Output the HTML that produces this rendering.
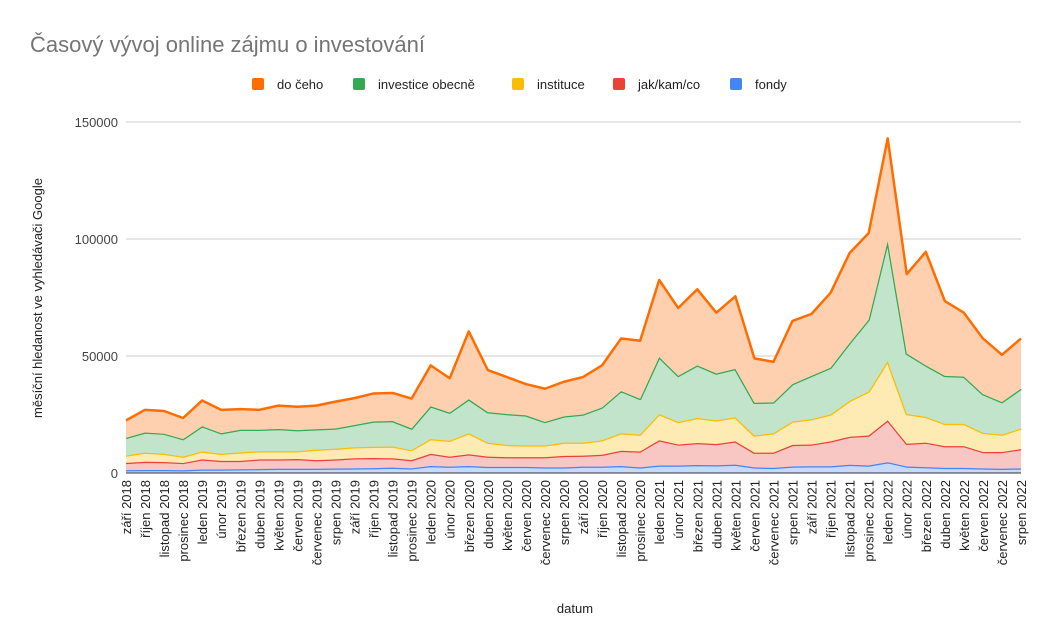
<!DOCTYPE html>
<html><head><meta charset="utf-8"><style>
body{margin:0;background:#fff;font-family:"Liberation Sans",Arial,sans-serif}
</style></head><body>
<svg id="chart" width="1045" height="637" xmlns="http://www.w3.org/2000/svg" font-family="Liberation Sans, Arial, sans-serif">
<text x="30" y="52" font-size="22" fill="#757575">Časový vývoj online zájmu o investování</text>
<g id="legend"></g>
<g id="grid"></g>
<g id="areas"></g>
<g id="xlabels"></g>
<text transform="translate(42,298) rotate(-90)" text-anchor="middle" font-size="13" fill="#222">měsíční hledanost ve vyhledávači Google</text>
<text x="575" y="613" text-anchor="middle" font-size="13" fill="#222">datum</text>
</svg>
<script>
const categories=["září 2018","říjen 2018","listopad 2018","prosinec 2018","leden 2019","únor 2019","březen 2019","duben 2019","květen 2019","červen 2019","červenec 2019","srpen 2019","září 2019","říjen 2019","listopad 2019","prosinec 2019","leden 2020","únor 2020","březen 2020","duben 2020","květen 2020","červen 2020","červenec 2020","srpen 2020","září 2020","říjen 2020","listopad 2020","prosinec 2020","leden 2021","únor 2021","březen 2021","duben 2021","květen 2021","červen 2021","červenec 2021","srpen 2021","září 2021","říjen 2021","listopad 2021","prosinec 2021","leden 2022","únor 2022","březen 2022","duben 2022","květen 2022","červen 2022","červenec 2022","srpen 2022"];
const fondy=[1.2,1.3,1.3,1.2,1.5,1.5,1.6,1.7,1.8,1.8,1.8,1.9,2,2.1,2.3,2,3,2.7,3,2.6,2.6,2.6,2.4,2.4,2.7,2.7,3,2.4,3.2,3.2,3.4,3.3,3.6,2.4,2.2,2.8,2.9,2.9,3.5,3.2,4.6,2.8,2.5,2.2,2.2,2,1.8,2];
const jakKamCo=[3.1,3.5,3.4,3.1,4.3,3.7,3.6,4.1,4.0,4.2,3.7,3.9,4.3,4.3,4.0,3.5,5.2,4.3,5.0,4.4,4.2,4.2,4.4,4.9,4.7,5.1,6.5,6.8,10.8,9.0,9.4,9.1,9.9,6.3,6.5,9.2,9.3,10.6,12.0,12.8,17.9,9.7,10.5,9.3,9.3,7.0,7.2,8.2];
const instituce=[3.2,3.9,3.5,2.7,3.4,3.0,3.6,3.5,3.5,3.3,4.5,4.6,4.7,4.8,5.0,4.3,6.3,6.8,9.0,6.0,5.2,5.0,5.0,5.7,5.6,6.2,7.5,7.2,11.2,9.6,10.7,10.1,10.3,7.3,8.3,10.0,10.8,11.5,15.3,18.8,25.3,12.7,11.0,9.5,9.5,8.2,7.4,8.8];
const investiceObecne=[7.5,8.6,8.6,7.5,10.8,8.8,9.7,9.2,9.5,9.0,8.7,8.6,9.5,10.8,10.9,9.2,14.0,12.0,14.5,13.0,13.2,12.8,10.0,11.2,12.0,14.0,18.0,15.3,24.3,19.7,22.5,20.0,20.7,14.0,13.2,16.0,18.5,20.0,24.7,30.7,51.2,25.8,22.0,20.5,20.2,16.5,13.9,17.0];
const doCeho=[7.5,9.7,9.7,9.0,11.0,10.0,8.8,8.5,10.0,10.0,10.1,11.5,11.5,12.0,12.0,12.8,17.5,14.7,29.0,18.0,15.8,13.4,14.2,14.8,16.0,18.0,22.5,24.8,33.0,29.0,32.5,26.0,31.0,19.0,17.3,27.0,26.5,32.0,38.5,37.0,44.0,34.0,48.5,32.0,27.3,23.8,20.2,21.5];
const yTicks=[0,50000,100000,150000];
const seriesNames=["do čeho","investice obecně","instituce","jak/kam/co","fondy"];

const NS="http://www.w3.org/2000/svg";
const X0=126,X1=1021,Y0=473,Y1=122,YMAX=150000;
const xs=i=>X0+(X1-X0)*i/(categories.length-1);
const ys=v=>Y0-(Y0-Y1)*v/YMAX;
function mk(t,a,p){const e=document.createElementNS(NS,t);for(const k in a)e.setAttribute(k,a[k]);p.appendChild(e);return e;}
const grid=document.getElementById('grid');
yTicks.forEach(t=>{
  const l=mk('line',{x1:X0,x2:X1,y1:ys(t),y2:ys(t),stroke:t===0?'#333':'#ccc','stroke-width':1},grid);
  
  
  const tx=mk('text',{x:118,y:ys(t)+5,'text-anchor':'end','font-size':13,fill:'#444'},grid);
  tx.textContent=t;
  
  
});
const layers=[{d:fondy,c:'#4285f4',f:'#c6dafc',n:'fondy'},{d:jakKamCo,c:'#ea4335',f:'#f8c7c3',n:'jak-kam-co'},{d:instituce,c:'#fbbc04',f:'#feebb4',n:'instituce'},{d:investiceObecne,c:'#34a853',f:'#c2e4cb',n:'investice-obecne'},{d:doCeho,c:'#ff6d01',f:'#ffd0b0',n:'do-ceho'}];
const areas=document.getElementById('areas');
let base=categories.map(()=>0);
layers.forEach(L=>{
  const top=base.map((b,i)=>b+L.d[i]*1000);
  let up=top.map((v,i)=>xs(i)+','+ys(v)).join(' ');
  let dn=base.map((v,i)=>xs(i)+','+ys(v)).reverse().join(' ');
  const a=mk('polygon',{points:up+' '+dn,fill:L.f},areas);
  
  
  const p=mk('polyline',{points:up,fill:'none',stroke:L.c,'stroke-width':2.5,'stroke-linejoin':'round'},areas);
  
  
  base=top;
});
mk('line',{x1:X0,x2:X1,y1:Y0,y2:Y0,stroke:'#333','stroke-width':1},areas);
const xl=document.getElementById('xlabels');
categories.forEach((c,i)=>{
  const t=mk('text',{transform:`translate(${xs(i)+5},480) rotate(-90)`,'text-anchor':'end','font-size':13,fill:'#222'},xl);
  t.textContent=c;
  
  
});
const lg=document.getElementById('legend');
const lcol=['#ff6d01','#34a853','#fbbc04','#ea4335','#4285f4'];
const lx=[252,353,512,613,730];
seriesNames.forEach((n,i)=>{
  const r=mk('rect',{x:lx[i],y:78,width:12,height:12,rx:2,fill:lcol[i]},lg);
  
  
  const t=mk('text',{x:lx[i]+25,y:89,'font-size':13,fill:'#222'},lg);
  t.textContent=n;
  
  
});
</script>
</body></html>
